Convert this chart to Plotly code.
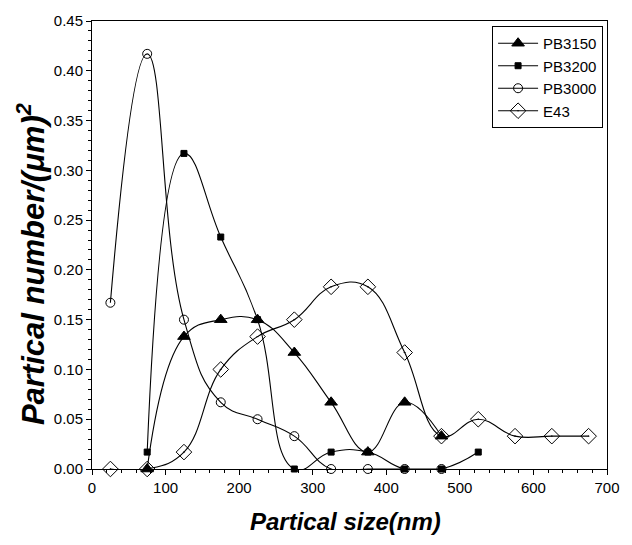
import plotly.graph_objects as go

# PB3150 (filled triangles)
pb3150_x = [75, 125, 175, 225, 275, 325, 375, 425, 475]
pb3150_y = [0.0, 0.133, 0.150, 0.150, 0.117, 0.067, 0.017, 0.067, 0.033]

# PB3200 (filled squares)
pb3200_x = [75, 125, 175, 225, 275, 325, 375, 425, 475, 525]
pb3200_y = [0.017, 0.317, 0.233, 0.150, 0.0, 0.017, 0.017, 0.0, 0.0, 0.017]

# PB3000 (open circles)
pb3000_x = [25, 75, 125, 175, 225, 275, 325, 375, 425, 475]
pb3000_y = [0.167, 0.417, 0.150, 0.067, 0.050, 0.033, 0.0, 0.0, 0.0, 0.0]

# E43 (open diamonds)
e43_x = [25, 75, 125, 175, 225, 275, 325, 375, 425, 475, 525, 575, 625, 675]
e43_y = [0.0, 0.0, 0.017, 0.100, 0.133, 0.150, 0.183, 0.183, 0.117, 0.033, 0.050, 0.033, 0.033, 0.033]

x_title = "Partical size(nm)"
y_title = "Partical number/(μm)<sup>2</sup>"

FONT = "Liberation Sans, Arial, sans-serif"

fig = go.Figure()

def add(name, xs, ys, symbol, size, smoothing=1.2):
    fig.add_trace(go.Scatter(
        x=xs, y=ys, name=name, mode="lines+markers",
        line=dict(color="black", width=1.1, shape="spline", smoothing=smoothing),
        marker=dict(symbol=symbol, size=size, color="black",
                    line=dict(color="black", width=1)),
        cliponaxis=False,
    ))

add("PB3150", pb3150_x, pb3150_y, "triangle-up", 11)
add("PB3200", pb3200_x, pb3200_y, "square", 6, 1.3)
add("PB3000", pb3000_x, pb3000_y, "circle-open", 9, 1.3)
add("E43", e43_x, e43_y, "diamond-open-dot", 12)

L, R, T, B = 92, 15, 19, 76
W, H = 632, 545
pw, ph = W - L - R, H - T - B

fig.update_layout(
    width=W, height=H,
    margin=dict(l=L, r=R, t=T, b=B),
    paper_bgcolor="white", plot_bgcolor="white",
    font=dict(family=FONT, size=15, color="black"),
    showlegend=True,
    legend=dict(
        x=(613 - L) / pw, y=1 - (24 - T) / ph, xanchor="right", yanchor="top",
        bordercolor="black", borderwidth=1, bgcolor="white",
        font=dict(family=FONT, size=15),
        itemwidth=40, tracegroupgap=0,
    ),
    xaxis=dict(
        range=[0, 700], tickmode="linear", tick0=0, dtick=100,
        showgrid=False, zeroline=False,
        showline=True, linecolor="black", linewidth=1, mirror=True,
        ticks="outside", ticklen=5, tickcolor="black",
        minor=dict(dtick=20, ticks="outside", ticklen=3, tickcolor="black", showgrid=False),
        tickfont=dict(family=FONT, size=15),
    ),
    yaxis=dict(
        range=[0, 0.45], tickmode="linear", tick0=0, dtick=0.05,
        tickformat=".2f",
        showgrid=False, zeroline=False,
        showline=True, linecolor="black", linewidth=1, mirror=True,
        ticks="outside", ticklen=5, tickcolor="black",
        minor=dict(dtick=0.01, ticks="outside", ticklen=3, tickcolor="black", showgrid=False),
        tickfont=dict(family=FONT, size=15),
    ),
    annotations=[
        dict(text="<b><i>" + x_title + "</i></b>", xref="paper", yref="paper",
             x=(350 - L) / pw, y=-(522 - 469) / ph, xanchor="center", yanchor="middle",
             showarrow=False, font=dict(family=FONT, size=24)),
        dict(text="<b><i>" + y_title + "</i></b>", xref="paper", yref="paper",
             x=-(L - 30) / pw, y=(469 - 263) / ph, xanchor="center", yanchor="middle",
             textangle=-90, showarrow=False, font=dict(family=FONT, size=31)),
    ],
)

fig.write_html("out.html")
